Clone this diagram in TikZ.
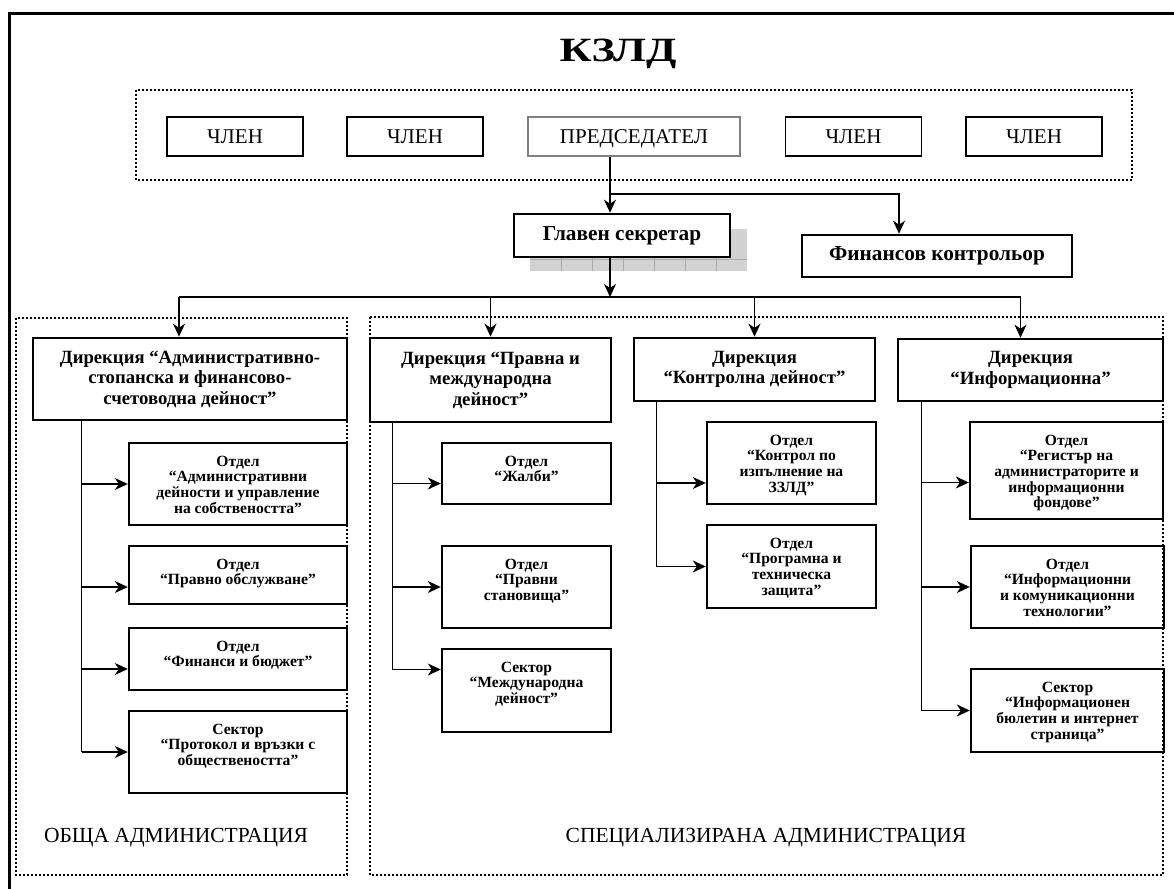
\documentclass[tikz,border=0pt]{standalone}
\usepackage{fontspec}
\setmainfont{Liberation Serif}
\usetikzlibrary{arrows.meta,positioning}

\tikzset{
  member/.style={draw, line width=1.8pt, minimum width=136pt, minimum height=39pt, inner sep=0pt, text depth=0pt, font=\fontsize{21}{23}\selectfont},
  head/.style={draw, fill=white, line width=2.6pt, inner sep=0pt, font=\bfseries\fontsize{21.3}{23}\selectfont},
  dir/.style={draw, line width=2.6pt, inner sep=0pt, align=center, font=\bfseries\fontsize{18.7}{20.5}\selectfont},
  unit/.style={draw, line width=2.4pt, inner sep=0pt},
  utext/.style={anchor=north, inner sep=0pt, yshift=-14pt, align=center, font=\bfseries\fontsize{15.6}{15.6}\selectfont},
  zone/.style={line width=2pt, dash pattern=on 2pt off 2pt},
  zonelabel/.style={inner sep=0pt, font=\fontsize{21.5}{23}\selectfont},
  line/.style={line width=1.5pt},
  arr/.style={line, -{Stealth[length=13pt, width=12pt, inset=4pt]}},
}

\begin{document}
\begin{tikzpicture}[x=1pt, y=-1pt]
\useasboundingbox (0,0) rectangle (1174,888);
\clip (0,0) rectangle (1174,888);
\draw[line width=2.5pt] (9.5,13.5) rectangle (1200,920);

% commission
\node[font=\bfseries\fontsize{34}{36}\selectfont] (title) at (618,54) {\scalebox{1.3}[1]{КЗЛД}};
\draw[zone] (136,90) rectangle (1132,180);
\node[member] (m1) at (235,136.5) {ЧЛЕН};
\node[member] (m2) at (415,136.5) {ЧЛЕН};
\node[member, draw=gray, minimum width=212pt] (pres) at (634,136.5) {ПРЕДСЕДАТЕЛ};
\node[member] (m3) at (853.5,136.5) {ЧЛЕН};
\node[member] (m4) at (1034,136.5) {ЧЛЕН};

% secretary with shadow
\fill[gray!35] (530,229) rectangle (747,271);
\foreach \x in {561,592,...,746}
  \draw[gray!65, line width=0.8pt] (\x,229) -- (\x,271);
\draw[gray!65, line width=0.8pt] (530,259) -- (747,259);
\node[head, minimum width=216pt, minimum height=43pt] (glav) at (622,235.5) {Главен секретар};
\node[head, minimum width=270pt, minimum height=42pt] (fin) at (937,256) {Финансов контрольор};

\coordinate (split) at (610,194);
\draw[line] (split |- pres.south) -- (split);
\draw[arr] (split) -- (split |- glav.north);
\draw[arr] (split) -| ([xshift=-38pt]fin.north);

% administrations
\draw[zone] (16,318) rectangle (347,875);
\draw[zone] (370,317) rectangle (1163,875);
\node[zonelabel] (obsh) at (176,838) {ОБЩА АДМИНИСТРАЦИЯ};
\node[zonelabel] (spec) at (766,838) {СПЕЦИАЛИЗИРАНА АДМИНИСТРАЦИЯ};

\node[dir, minimum width=314pt, minimum height=82pt] (dirA) at (190,379) {Дирекция “Административно-\\стопанска и финансово-\\счетоводна дейност”};
\node[dir, minimum width=241pt, minimum height=84pt] (dirB) at (490.5,380) {Дирекция “Правна и\\международна\\дейност”};
\node[dir, minimum width=241pt, minimum height=63pt] (dirC) at (754.5,369.5) {Дирекция\\“Контролна дейност”};
\node[dir, minimum width=265pt, minimum height=62pt] (dirD) at (1030.5,370) {Дирекция\\“Информационна”};

\coordinate (bus) at (610,297);
\draw[arr] (split |- glav.south) -- (bus);
\coordinate (inA) at ([xshift=-11pt]dirA.north);
\coordinate (inB) at (dirB.north);
\coordinate (inC) at (dirC.north);
\coordinate (inD) at ([xshift=-10pt]dirD.north);
\draw[line] (bus -| inA) -- (bus -| inD);
\foreach \d in {A,B,C,D}
  \draw[arr] (bus -| in\d) -- (in\d);

% departments and sectors
\node[unit, minimum width=218pt, minimum height=82pt, label={[utext]north:{Отдел\\“Административни\\дейности и управление\\на собствеността”}}] (a1) at (238,484) {};
\node[unit, minimum width=218pt, minimum height=58pt, label={[utext]north:{Отдел\\“Правно обслужване”}}] (a2) at (238,575) {};
\node[unit, minimum width=218pt, minimum height=62pt, label={[utext]north:{Отдел\\“Финанси и бюджет”}}] (a3) at (238,659) {};
\node[unit, minimum width=218pt, minimum height=82pt, label={[utext]north:{Сектор\\“Протокол и връзки с\\обществеността”}}] (a4) at (238,752) {};

\node[unit, minimum width=169pt, minimum height=61pt, label={[utext]north:{Отдел\\“Жалби”}}] (b1) at (526.5,473.5) {};
\node[unit, minimum width=169pt, minimum height=82pt, label={[utext]north:{Отдел\\“Правни\\становища”}}] (b2) at (526.5,587) {};
\node[unit, minimum width=169pt, minimum height=83pt, label={[utext]north:{Сектор\\“Международна\\дейност”}}] (b3) at (526.5,690.5) {};

\node[unit, minimum width=169pt, minimum height=82pt, label={[utext]north:{Отдел\\“Контрол по\\изпълнение на\\ЗЗЛД”}}] (c1) at (791.5,463) {};
\node[unit, minimum width=169pt, minimum height=83pt, label={[utext]north:{Отдел\\“Програмна и\\техническа\\защита”}}] (c2) at (791.5,566.5) {};

\node[unit, minimum width=193pt, minimum height=97pt, label={[utext]north:{Отдел\\“Регистър на\\администраторите и\\информационни\\фондове”}}] (d1) at (1066.5,470.5) {};
\node[unit, minimum width=193pt, minimum height=82pt, label={[utext]north:{Отдел\\“Информационни\\и комуникационни\\технологии”}}] (d2) at (1067.5,587) {};
\node[unit, minimum width=193pt, minimum height=83pt, label={[utext]north:{Сектор\\“Информационен\\бюлетин и интернет\\страница”}}] (d3) at (1067.5,710.5) {};

% entry points of the arrows
\coordinate (a1-in) at (a1.west);
\coordinate (a2-in) at ([yshift=-12pt]a2.west);
\coordinate (a3-in) at ([yshift=-10pt]a3.west);
\coordinate (a4-in) at (a4.west);
\coordinate (b1-in) at ([yshift=-10pt]b1.west);
\coordinate (b2-in) at (b2.west);
\coordinate (b3-in) at ([yshift=21pt]b3.west);
\coordinate (c1-in) at ([yshift=-20pt]c1.west);
\coordinate (c2-in) at (c2.west);
\coordinate (d1-in) at ([yshift=-12pt]d1.west);
\coordinate (d2-in) at (d2.west);
\coordinate (d3-in) at (d3.west);

\coordinate (sA) at ([xshift=50pt]dirA.south west);
\coordinate (sB) at ([xshift=24pt]dirB.south west);
\coordinate (sC) at ([xshift=24pt]dirC.south west);
\coordinate (sD) at ([xshift=25pt]dirD.south west);
\draw[line] (sA) -- (sA |- a4-in);
\draw[line] (sB) -- (sB |- b3-in);
\draw[line] (sC) -- (sC |- c2-in);
\draw[line] (sD) -- (sD |- d3-in);
\foreach \u/\s in {a1/sA, a2/sA, a3/sA, a4/sA, b1/sB, b2/sB, b3/sB, c1/sC, c2/sC, d1/sD, d2/sD, d3/sD}
  \draw[arr] (\s |- \u-in) -- (\u-in);
\end{tikzpicture}
\end{document}
